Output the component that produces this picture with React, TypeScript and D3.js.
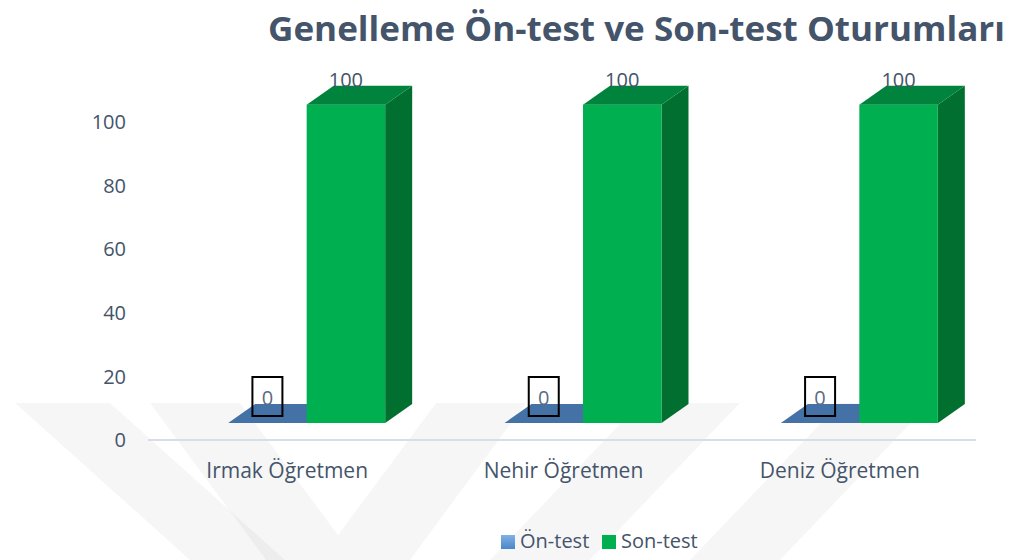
import * as d3 from "d3";

const TITLE = "Genelleme Ön-test ve Son-test Oturumları";
const categories = ["Irmak Öğretmen", "Nehir Öğretmen", "Deniz Öğretmen"];
const seriesNames = ["Ön-test", "Son-test"];
const onTest = [0, 0, 0];
const sonTest = [100, 100, 100];
const yTicks = [0, 20, 40, 60, 80, 100];

const W = 1010;
const H = 560;
const TEXT = "#44546A";
const FONT = "'Open Sans', sans-serif";

// pseudo-3d depth of the bars
const DX = 27;
const DY = -19;
const FRONT_OFFSET = 17; // front face sits below the axis baseline

const COLORS: Record<string, { front: string; top: string; side: string }> = {
  "Ön-test": { front: "#4A7FB5", top: "#4472A6", side: "#35597F" },
  "Son-test": { front: "#00B050", top: "#00843D", side: "#006F30" },
};

// faint thesis watermark bands, only below the plot
const watermark = [
  [[15, 403], [110, 403], [285, 560], [190, 560]],
  [[150, 403], [240, 403], [338, 535], [436, 403], [526, 403], [410, 560], [266, 560]],
  [[640, 403], [740, 403], [590, 560], [490, 560]],
  [[840, 403], [930, 403], [780, 560], [690, 560]],
];

export default function App() {
  const x = d3.scaleBand<string>().domain(categories).range([149, 978]);
  const inner = d3.scaleBand<string>().domain(seriesNames).range([-59, 98]);
  const y = d3.scaleLinear().domain([0, 100]).range([440, 121.7]);

  const rows = categories.map((c, i) => ({
    cat: c,
    center: (x(c) ?? 0) + x.bandwidth() / 2,
    values: [
      { key: "Ön-test", v: onTest[i] },
      { key: "Son-test", v: sonTest[i] },
    ],
  }));

  const bw = inner.bandwidth();
  const base = y(0) - FRONT_OFFSET;

  return (
    <svg width={W} height={H} style={{ position: "absolute", left: 0, top: 0, background: "#fff" }}>
      <g>
        {watermark.map((pts, i) => (
          <polygon key={i} points={pts.map((p) => p.join(",")).join(" ")} fill="#000" opacity={0.035} />
        ))}
      </g>

      <text
        x={268}
        y={41}
        fontFamily={FONT}
        fontWeight={700}
        fontSize={34}
        fill={TEXT}
        textLength={737}
        lengthAdjust="spacingAndGlyphs"
      >
        {TITLE}
      </text>

      {/* Y ticks */}
      {yTicks.map((t) => (
        <text key={t} x={126} y={y(t)} dy="0.36em" textAnchor="end" fontFamily={FONT} fontSize={20} fill={TEXT}>
          {t}
        </text>
      ))}

      {/* base line */}
      <line x1={148} x2={976} y1={y(0)} y2={y(0)} stroke="#D9DDE5" strokeWidth={2} />

      {/* bars */}
      {rows.map((r) => (
        <g key={r.cat}>
          {r.values.map((d) => {
            const x0 = r.center + (inner(d.key) ?? 0);
            const x1 = x0 + bw;
            const yt = y(d.v) - FRONT_OFFSET;
            const col = COLORS[d.key];
            const top = [[x0, yt], [x0 + DX, yt + DY], [x1 + DX, yt + DY], [x1, yt]];
            const side = [[x1, yt], [x1 + DX, yt + DY], [x1 + DX, base + DY], [x1, base]];
            return (
              <g key={d.key}>
                {d.v > 0 && <polygon points={side.map((p) => p.join(",")).join(" ")} fill={col.side} />}
                {d.v > 0 && <rect x={x0} y={yt} width={bw} height={base - yt} fill={col.front} />}
                <polygon points={top.map((p) => p.join(",")).join(" ")} fill={col.top} />
              </g>
            );
          })}
          {/* data labels */}
          {r.values.map((d) => {
            const cx = r.center + (inner(d.key) ?? 0) + bw / 2;
            if (d.v === 0) {
              return (
                <g key={d.key}>
                  <rect x={cx - 15} y={377} width={30} height={39} fill="none" stroke="#000" strokeWidth={2} />
                  <text x={cx} y={405} textAnchor="middle" fontFamily={FONT} fontSize={20} fill="#5B6B80">
                    {d.v}
                  </text>
                </g>
              );
            }
            return (
              <text key={d.key} x={cx} y={87} textAnchor="middle" fontFamily={FONT} fontSize={20} fill={TEXT}>
                {d.v}
              </text>
            );
          })}
          <text x={r.center} y={478} textAnchor="middle" fontFamily={FONT} fontSize={21} fill={TEXT}>
            {r.cat}
          </text>
        </g>
      ))}

      {/* legend */}
      <defs>
        <linearGradient id="lgBlue" x1="0" y1="0" x2="0" y2="1">
          <stop offset="0" stopColor="#7FB2E5" />
          <stop offset="1" stopColor="#4A86C8" />
        </linearGradient>
      </defs>
      <rect x={501} y={535} width={14} height={14} fill="url(#lgBlue)" />
      <text x={520} y={548} fontFamily={FONT} fontSize={20} fill={TEXT}>
        {seriesNames[0]}
      </text>
      <rect x={602} y={535} width={14} height={14} fill="#00B050" />
      <text x={621} y={548} fontFamily={FONT} fontSize={20} fill={TEXT}>
        {seriesNames[1]}
      </text>
    </svg>
  );
}
